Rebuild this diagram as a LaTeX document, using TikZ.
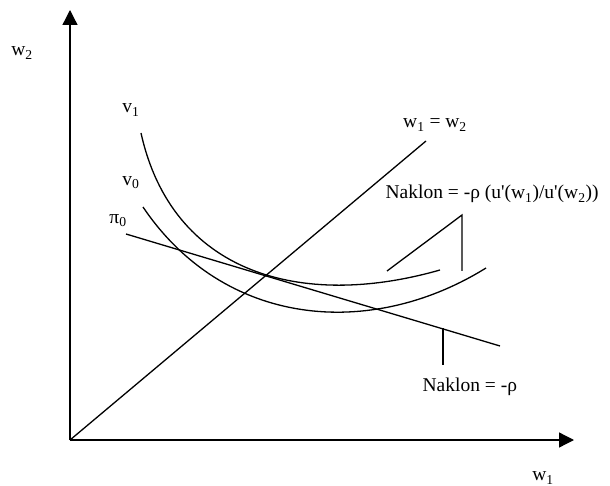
\documentclass[tikz,border=0pt]{standalone}
\usepackage{fontspec}
\setmainfont{Liberation Serif}
\usetikzlibrary{arrows.meta}
\newcommand{\sbs}[1]{\textsubscript{#1}}
\newcommand{\apos}{\textquotesingle}
\begin{document}
\begin{tikzpicture}[x=1pt,y=-1pt,
  line width=1.3pt,
  lbl/.style={inner sep=0pt,font=\fontsize{19.5}{22}\selectfont},
  ax/.style={-{Triangle[length=15pt,width=15pt]}}]
\useasboundingbox (0,0) rectangle (610,486);
\coordinate (O) at (70,440);
\coordinate (Ytip) at (70,10);
\coordinate (Xtip) at (574,440);
\draw[ax] (O) -- (Ytip);
\draw[ax] (O) -- (Xtip);
\node[lbl] (w2) at (22,53) {w\sbs{2}};
\node[lbl] (w1) at (543,478) {w\sbs{1}};
% 45 degree line
\coordinate (D) at (426,141);
\draw (O) -- (D);
\node[lbl] (eq) at (435,125) {w\sbs{1} = w\sbs{2}};
% indifference curves
\coordinate (v1s) at (141,133);
\coordinate (v1e) at (440,270);
\draw (v1s) .. controls (172,273) and (300,310) .. (v1e);
\coordinate (v0s) at (143,207);
\coordinate (v0e) at (486,268);
\draw (v0s) .. controls (224,327) and (370,340) .. (v0e);
\node[lbl] (v1) at (131,110) {v\sbs{1}};
\node[lbl] (v0) at (131,183) {v\sbs{0}};
\node[lbl] (p0) at (118,221) {π\sbs{0}};
% budget line
\coordinate (p0s) at (126,234);
\coordinate (p0e) at (500,346);
\draw (p0s) -- (p0e);
% slope labels
\node[lbl,anchor=base west] (n1) at (385,199) {Naklon = -ρ (u\apos(w\sbs{1})/u\apos(w\sbs{2}))};
\coordinate (a1) at (387,271);
\coordinate (a2) at (462,215);
\coordinate (a3) at (462,271);
\draw (a1) -- (a2) -- (a3);
\node[lbl,anchor=base west] (n2) at (422,391) {Naklon = -ρ};
\coordinate (b1) at (443,328);
\coordinate (b2) at (443,365);
\draw (b1) -- (b2);
\end{tikzpicture}
\end{document}
